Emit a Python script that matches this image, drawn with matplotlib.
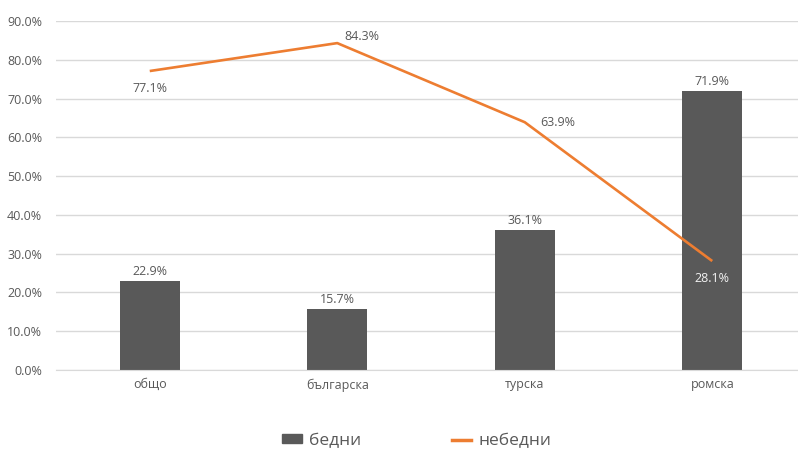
import matplotlib.pyplot as plt
from matplotlib.patches import Patch
from matplotlib.lines import Line2D

categories = ["общо", "българска", "турска", "ромска"]
poor = [0.229, 0.157, 0.361, 0.719]
non_poor = [0.771, 0.843, 0.639, 0.281]
poor_labels = ["22.9%", "15.7%", "36.1%", "71.9%"]
non_poor_labels = ["77.1%", "84.3%", "63.9%", "28.1%"]

BAR = "#595959"
LINE = "#ED7D31"
TXT = "#595959"
GRID = "#D9D9D9"

plt.rcParams['font.family'] = ['Open Sans', 'DejaVu Sans']

fig = plt.figure(figsize=(7.98, 4.5), dpi=100)
ax = fig.add_axes([56 / 798, 80 / 450, 750 / 798, 349 / 450])

x = list(range(len(categories)))
ax.bar(x, poor, width=0.32, color=BAR, zorder=2)
ax.plot(x, non_poor, color=LINE, linewidth=1.9, zorder=3, solid_capstyle="butt")

for xi, v, lab in zip(x, poor, poor_labels):
    ax.annotate(lab, (xi, v), xytext=(0, 2), textcoords="offset points",
                ha="center", va="bottom", fontsize=9, color=TXT)

# line labels: (dx, dy) offsets in points, colour
offsets = [(0, -8, "top", "center", TXT),
           (18, 0, "bottom", "center", TXT),
           (24, 0, "center", "center", TXT),
           (0, -8, "top", "center", "#F2F2F2")]
for xi, v, lab, (dx, dy, va, ha, c) in zip(x, non_poor, non_poor_labels, offsets):
    ax.annotate(lab, (xi, v), xytext=(dx, dy), textcoords="offset points",
                ha=ha, va=va, fontsize=9, color=c, zorder=4)

ax.set_xlim(-0.5, 3.5)
ax.set_ylim(0, 0.9)
ax.set_yticks([i / 10 for i in range(10)])
ax.set_yticklabels([f"{i * 10:.1f}%" for i in range(10)])
ax.set_xticks(x)
ax.set_xticklabels(categories)
ax.tick_params(axis="both", length=0, colors=TXT, labelsize=9)
ax.tick_params(axis="y", pad=10)
ax.tick_params(axis="x", pad=6)
ax.grid(axis="y", color=GRID, linewidth=1, zorder=0)
ax.set_axisbelow(True)
for s in ["top", "right", "left"]:
    ax.spines[s].set_visible(False)
ax.spines["bottom"].set_color(GRID)

handles = [Patch(facecolor=BAR, edgecolor=BAR),
           Line2D([0], [0], color=LINE, linewidth=2.5)]
fig.legend(handles, ["бедни", "небедни"], loc="center", bbox_to_anchor=(417 / 798, 1 - 441 / 450),
           ncol=2, frameon=False, fontsize=12.5, labelcolor=TXT,
           handlelength=1.1, handleheight=0.45, columnspacing=5.2, handletextpad=0.45)

fig.savefig("out.png", dpi=100)
